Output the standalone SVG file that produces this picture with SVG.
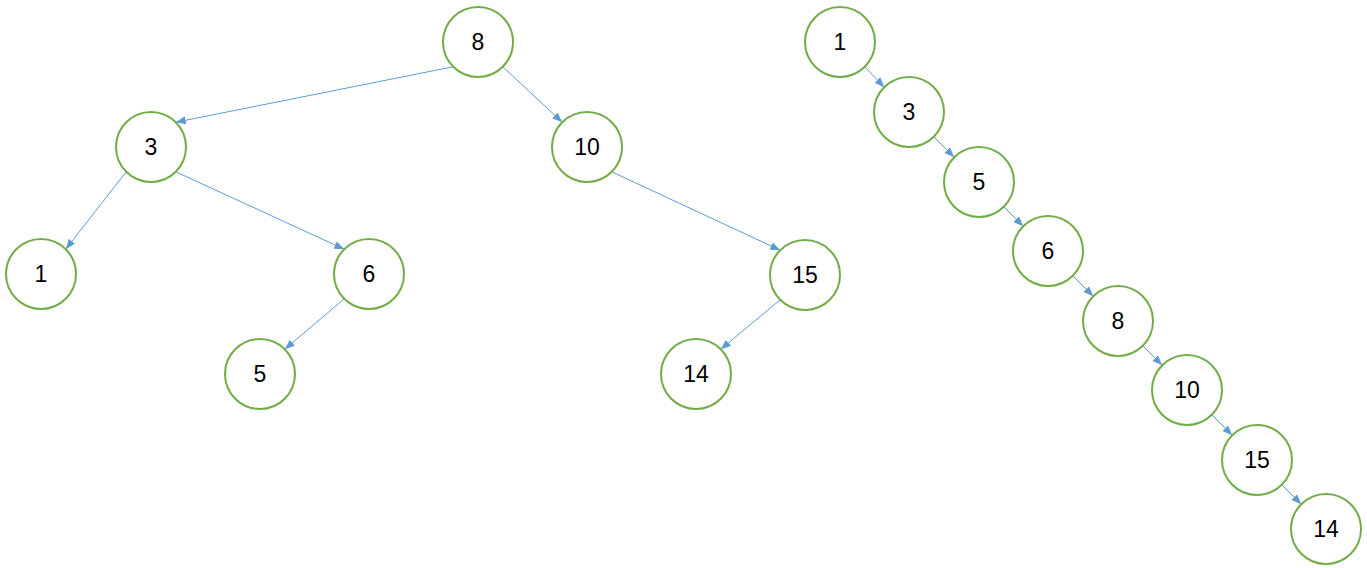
<svg xmlns="http://www.w3.org/2000/svg" width="1367" height="568" viewBox="0 0 1367 568">
<defs>
<marker id="arr" markerUnits="userSpaceOnUse" markerWidth="10" markerHeight="8" refX="10" refY="4" orient="auto">
<path d="M0,0 L10,4 L0,8 z" fill="#5B9BD5"/>
</marker>
<style>
.n circle{fill:#fff;stroke:#70AD47;stroke-width:2}
.n text{font-family:"Liberation Sans",Arial,sans-serif;font-size:23px;fill:#000;text-anchor:middle;dominant-baseline:central}
#edges line{stroke:#5B9BD5;stroke-width:1;marker-end:url(#arr)}
</style>
</defs>
<rect width="1367" height="568" fill="#fff"/>
<g id="edges">
<line x1="453.25" y1="66.75" x2="175.75" y2="122.25"/>
<line x1="502.75" y1="66.75" x2="562.25" y2="122.25"/>
<line x1="126.25" y1="171.75" x2="65.75" y2="249.25"/>
<line x1="175.75" y1="171.75" x2="344.25" y2="249.25"/>
<line x1="344.25" y1="298.75" x2="284.75" y2="349.25"/>
<line x1="611.75" y1="171.75" x2="780.25" y2="250.25"/>
<line x1="780.25" y1="299.75" x2="720.75" y2="349.25"/>
<line x1="864.75" y1="66.75" x2="884.25" y2="87.25"/>
<line x1="933.75" y1="136.75" x2="954.25" y2="157.25"/>
<line x1="1003.75" y1="206.75" x2="1023.25" y2="226.25"/>
<line x1="1072.75" y1="275.75" x2="1093.25" y2="296.25"/>
<line x1="1142.75" y1="345.75" x2="1162.25" y2="365.25"/>
<line x1="1211.75" y1="414.75" x2="1232.25" y2="435.25"/>
<line x1="1281.75" y1="484.75" x2="1301.25" y2="504.25"/>
</g>
<g id="t8" class="n"><circle cx="478" cy="42" r="35"/><text x="478" y="42">8</text></g>
<g id="t3" class="n"><circle cx="151" cy="147" r="35"/><text x="151" y="147">3</text></g>
<g id="t10" class="n"><circle cx="587" cy="147" r="35"/><text x="587" y="147">10</text></g>
<g id="t1" class="n"><circle cx="41" cy="274" r="35"/><text x="41" y="274">1</text></g>
<g id="t6" class="n"><circle cx="369" cy="274" r="35"/><text x="369" y="274">6</text></g>
<g id="t5" class="n"><circle cx="260" cy="374" r="35"/><text x="260" y="374">5</text></g>
<g id="t15" class="n"><circle cx="805" cy="275" r="35"/><text x="805" y="275">15</text></g>
<g id="t14" class="n"><circle cx="696" cy="374" r="35"/><text x="696" y="374">14</text></g>
<g id="c1" class="n"><circle cx="840" cy="42" r="35"/><text x="840" y="42">1</text></g>
<g id="c3" class="n"><circle cx="909" cy="112" r="35"/><text x="909" y="112">3</text></g>
<g id="c5" class="n"><circle cx="979" cy="182" r="35"/><text x="979" y="182">5</text></g>
<g id="c6" class="n"><circle cx="1048" cy="251" r="35"/><text x="1048" y="251">6</text></g>
<g id="c8" class="n"><circle cx="1118" cy="321" r="35"/><text x="1118" y="321">8</text></g>
<g id="c10" class="n"><circle cx="1187" cy="390" r="35"/><text x="1187" y="390">10</text></g>
<g id="c15" class="n"><circle cx="1257" cy="460" r="35"/><text x="1257" y="460">15</text></g>
<g id="c14" class="n"><circle cx="1326" cy="529" r="35"/><text x="1326" y="529">14</text></g>
</svg>
